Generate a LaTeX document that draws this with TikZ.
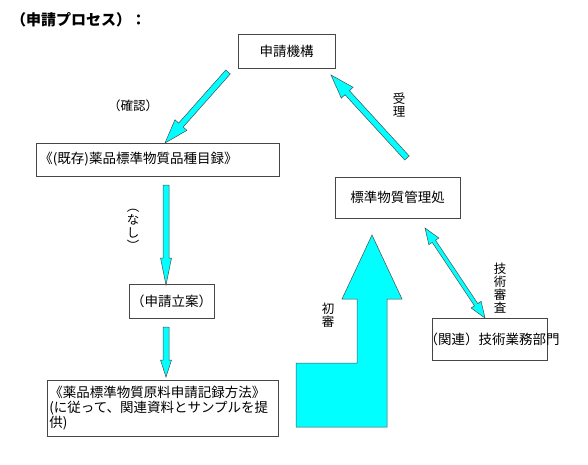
\documentclass[tikz,border=0pt]{standalone}
\usepackage{fontspec}
\newfontfamily\jp{Noto Sans CJK JP}
\usetikzlibrary{calc,positioning}
\definecolor{aqua}{RGB}{0,255,255}
\tikzset{
  procbox/.style={draw=gray!55!black,line width=0.8pt,fill=white,inner sep=2pt,font=\jp\fontsize{13.5}{15}\selectfont},
  tag/.style={font=\jp\fontsize{12.5}{13.2}\selectfont,align=center,inner sep=0pt},
  flow/.style={fill=aqua,draw=gray!60!black,line width=0.5pt,line join=miter}
}
% block arrow: start, end, shaft half width, head half width, head length
\newcommand{\flowarrow}[5]{%
  \draw[flow] ($(#1)!#3!90:(#2)$) -- ($($(#2)!#5!(#1)$)!#3!-90:(#1)$)
    -- ($($(#2)!#5!(#1)$)!#4!-90:(#1)$) -- (#2)
    -- ($($(#2)!#5!(#1)$)!#4!90:(#1)$) -- ($($(#2)!#5!(#1)$)!#3!90:(#1)$)
    -- ($(#1)!#3!-90:(#2)$) -- cycle;}
\newcommand{\twowayarrow}[5]{%
  \draw[flow] (#1) -- ($($(#1)!#5!(#2)$)!#4!90:(#2)$) -- ($($(#1)!#5!(#2)$)!#3!90:(#2)$)
    -- ($($(#2)!#5!(#1)$)!#3!-90:(#1)$) -- ($($(#2)!#5!(#1)$)!#4!-90:(#1)$) -- (#2)
    -- ($($(#2)!#5!(#1)$)!#4!90:(#1)$) -- ($($(#2)!#5!(#1)$)!#3!90:(#1)$)
    -- ($($(#1)!#5!(#2)$)!#3!-90:(#2)$) -- ($($(#1)!#5!(#2)$)!#4!-90:(#2)$) -- cycle;}
\begin{document}
\begin{tikzpicture}[x=1pt,y=-1pt]
\useasboundingbox (0,0) rectangle (588,464);
\node[anchor=west,font=\jp\bfseries\fontsize{15}{16}\selectfont,inner sep=0pt] (title) at (11,20) {（申請プロセス）：};
% boxes
\node[procbox,minimum width=97pt,minimum height=34pt] (org) at (286.5,51) {申請機構};
\node[procbox,minimum height=33pt,text width=237pt,align=left,anchor=west,inner xsep=3pt] (list) at (36,159.5) {《(既存)薬品標準物質品種目録》};
\node[procbox,minimum width=77pt,minimum height=34pt] (plan) at (171.5,301) {（申請立案）};
\node[procbox,minimum width=231pt,minimum height=56pt,text width=227pt,align=left,anchor=north west] (method) at (47,380)
 {《薬品標準物質原料申請記録方法》\\(に従って、関連資料とサンプルを提\\供)};
\node[procbox,minimum width=125pt,minimum height=41pt] (office) at (397.5,197.5) {標準物質管理処};
\node[procbox,minimum width=115pt,minimum height=42pt] (dept) at (489.5,339) {};
\node[font=\jp\fontsize{13.5}{15}\selectfont,inner sep=0pt] (deptname) at (492,339) {（関連）技術業務部門};
% arrow ends
\coordinate (c1s) at (228,72);
\coordinate (c1e) at (165,143);
\coordinate (c2s) at (166,185);
\coordinate (c2e) at (166,285);
\coordinate (c3s) at (166,327);
\coordinate (c3e) at (166,377);
\coordinate (c4s) at (407,158);
\coordinate (c4e) at (331,75);
\coordinate (c5s) at (425,228);
\coordinate (c5e) at (485,318);
\flowarrow{c1s}{c1e}{3pt}{8pt}{24pt}
\flowarrow{c2s}{c2e}{3pt}{5.5pt}{27pt}
\flowarrow{c3s}{c3e}{3pt}{5.5pt}{17pt}
\flowarrow{c4s}{c4e}{3pt}{8pt}{24pt}
\twowayarrow{c5s}{c5e}{2pt}{6pt}{16pt}
% big bent arrow
\draw[flow] (296,427) -- (387,427) -- (387,299) -- (402,299) -- (372,235)
 -- (342,299) -- (357,299) -- (357,363) -- (296,363) -- cycle;
% labels
\node[tag] (confirm) at (133,106) {（確認）};
\node[tag] (none) at (133,230) {︵\\な\\し\\︶};
\node[tag] (accept) at (399,105) {受\\理};
\node[tag] (first) at (328,315) {初\\審};
\node[tag] (review) at (500,288) {技\\術\\審\\査};
\end{tikzpicture}
\end{document}
